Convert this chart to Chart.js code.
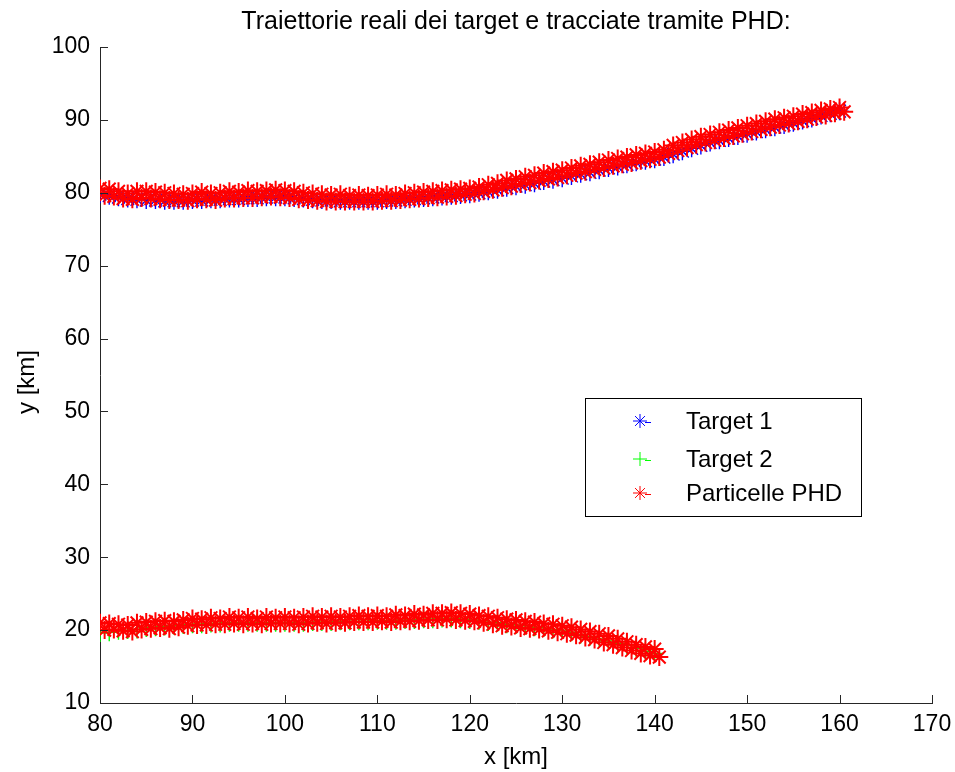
<!DOCTYPE html>
<html>
<head>
<meta charset="utf-8">
<script src="https://cdn.jsdelivr.net/npm/chart.js@4.4.0/dist/chart.umd.min.js"></script>
<style>
  html, body { margin: 0; padding: 0; background: #fff; }
  #wrap { width: 955px; height: 772px; }
</style>
</head>
<body>
<div id="wrap"><canvas id="traj" width="955" height="772"></canvas></div>
<script>
// x grid of the two tracks (km)
const topX = [80, 81, 82, 83, 84, 85, 86, 87, 88, 89, 90, 91, 92, 93, 94, 95, 96, 97, 98, 99,
  100, 101, 102, 103, 104, 105, 106, 107, 108, 109, 110, 111, 112, 113, 114, 115, 116, 117, 118, 119,
  120, 121, 122, 123, 124, 125, 126, 127, 128, 129, 130, 131, 132, 133, 134, 135, 136, 137, 138, 139,
  140, 141, 142, 143, 144, 145, 146, 147, 148, 149, 150, 151, 152, 153, 154, 155, 156, 157, 158, 159, 160];
const topXHalf = [80.5, 81.5, 82.5, 83.5, 84.5, 85.5, 86.5, 87.5, 88.5, 89.5, 90.5, 91.5, 92.5, 93.5, 94.5, 95.5, 96.5, 97.5, 98.5, 99.5,
  100.5, 101.5, 102.5, 103.5, 104.5, 105.5, 106.5, 107.5, 108.5, 109.5, 110.5, 111.5, 112.5, 113.5, 114.5, 115.5, 116.5, 117.5, 118.5, 119.5,
  120.5, 121.5, 122.5, 123.5, 124.5, 125.5, 126.5, 127.5, 128.5, 129.5, 130.5, 131.5, 132.5, 133.5, 134.5, 135.5, 136.5, 137.5, 138.5, 139.5,
  140.5, 141.5, 142.5, 143.5, 144.5, 145.5, 146.5, 147.5, 148.5, 149.5, 150.5, 151.5, 152.5, 153.5, 154.5, 155.5, 156.5, 157.5, 158.5, 159.5, 160.5];
const botX = [80, 81, 82, 83, 84, 85, 86, 87, 88, 89, 90, 91, 92, 93, 94, 95, 96, 97, 98, 99,
  100, 101, 102, 103, 104, 105, 106, 107, 108, 109, 110, 111, 112, 113, 114, 115, 116, 117, 118, 119,
  120, 121, 122, 123, 124, 125, 126, 127, 128, 129, 130, 131, 132, 133, 134, 135, 136, 137, 138, 139, 140];
const botXHalf = [80.5, 81.5, 82.5, 83.5, 84.5, 85.5, 86.5, 87.5, 88.5, 89.5, 90.5, 91.5, 92.5, 93.5, 94.5, 95.5, 96.5, 97.5, 98.5, 99.5,
  100.5, 101.5, 102.5, 103.5, 104.5, 105.5, 106.5, 107.5, 108.5, 109.5, 110.5, 111.5, 112.5, 113.5, 114.5, 115.5, 116.5, 117.5, 118.5, 119.5,
  120.5, 121.5, 122.5, 123.5, 124.5, 125.5, 126.5, 127.5, 128.5, 129.5, 130.5, 131.5, 132.5, 133.5, 134.5, 135.5, 136.5, 137.5, 138.5, 139.5, 140.5];

// true trajectories (km)
const target1Y = [79.8, 79.6, 79.4, 79.2, 79.1, 79.0, 79.0, 78.9, 78.9, 78.9, 79.0, 79.0, 79.1, 79.1, 79.2, 79.2, 79.3, 79.3, 79.4, 79.4,
  79.4, 79.3, 79.2, 79.1, 79.0, 79.0, 78.9, 78.9, 78.9, 78.9, 78.9, 79.0, 79.0, 79.1, 79.2, 79.3, 79.4, 79.5, 79.6, 79.7,
  79.8, 80.0, 80.2, 80.4, 80.7, 80.9, 81.1, 81.3, 81.6, 81.8, 82.0, 82.3, 82.6, 82.8, 83.1, 83.4, 83.6, 83.9, 84.2, 84.4,
  84.6, 84.9, 85.3, 85.7, 86.1, 86.5, 86.9, 87.2, 87.5, 87.8, 88.1, 88.4, 88.7, 89.0, 89.3, 89.6, 89.9, 90.2, 90.6, 90.9, 91.2];
const target2Y = [19.6, 19.7, 19.9, 20.0, 20.1, 20.3, 20.4, 20.5, 20.6, 20.7, 20.8, 20.8, 20.9, 20.9, 21.0, 21.0, 21.0, 21.0, 21.0, 21.0,
  21.0, 21.0, 21.0, 21.1, 21.1, 21.1, 21.2, 21.2, 21.2, 21.2, 21.3, 21.3, 21.3, 21.4, 21.4, 21.5, 21.5, 21.6, 21.6, 21.5,
  21.4, 21.3, 21.1, 21.0, 20.8, 20.7, 20.6, 20.4, 20.3, 20.1, 20.0, 19.7, 19.4, 19.1, 18.8, 18.5, 18.2, 17.9, 17.5, 17.1, 16.8];

// PHD particles (km)
const phdTopA = [80.6, 80.5, 80.2, 79.9, 80.2, 80.2, 80.1, 80.0, 79.9, 79.8, 79.9, 80.1, 79.9, 80.0, 80.2, 80.1, 80.3, 80.2, 80.3, 80.4,
  80.3, 80.2, 80.0, 79.9, 79.8, 79.7, 79.8, 79.6, 79.7, 79.6, 79.7, 79.8, 79.7, 79.9, 80.0, 80.1, 80.2, 80.3, 80.4, 80.5,
  80.6, 80.8, 81.1, 81.3, 81.7, 81.9, 82.2, 82.4, 82.7, 82.9, 83.1, 83.4, 83.7, 83.9, 84.2, 84.5, 84.7, 84.9, 85.2, 85.4,
  85.6, 85.9, 86.5, 86.9, 87.3, 87.7, 88.0, 88.3, 88.6, 88.9, 89.2, 89.5, 89.8, 90.1, 90.3, 90.5, 90.8, 91.0, 91.3, 91.5, 91.7];
const phdTopB = [79.6, 79.5, 79.2, 79.1, 79.3, 79.2, 79.1, 79.0, 79.0, 78.9, 79.1, 79.1, 79.0, 79.2, 79.2, 79.3, 79.3, 79.4, 79.5, 79.4,
  79.3, 79.1, 79.0, 78.9, 78.8, 78.8, 78.8, 78.8, 78.8, 78.8, 78.9, 78.9, 79.0, 79.1, 79.2, 79.3, 79.4, 79.5, 79.6, 79.8,
  79.9, 80.2, 80.4, 80.7, 80.9, 81.2, 81.4, 81.7, 81.9, 82.1, 82.4, 82.7, 82.9, 83.2, 83.4, 83.7, 83.9, 84.1, 84.4, 84.6,
  84.9, 85.4, 85.8, 86.2, 86.6, 86.9, 87.2, 87.5, 87.8, 88.1, 88.4, 88.7, 89.0, 89.3, 89.5, 89.8, 90.1, 90.4, 90.6, 90.9, 91.1];
const phdBotA = [21.0, 20.9, 20.8, 20.7, 21.0, 21.1, 21.2, 21.3, 21.2, 21.4, 21.6, 21.5, 21.7, 21.6, 21.8, 21.7, 21.8, 21.6, 21.8, 21.7,
  21.8, 21.7, 21.8, 21.9, 21.8, 21.9, 21.8, 21.9, 22.0, 21.9, 22.0, 21.9, 22.1, 22.0, 22.2, 22.1, 22.3, 22.3, 22.4, 22.3,
  22.2, 22.0, 21.9, 21.7, 21.5, 21.4, 21.2, 21.1, 20.9, 20.8, 20.6, 20.4, 20.1, 19.8, 19.5, 19.2, 18.8, 18.4, 18.0, 17.7, 17.4];
const phdBotB = [20.0, 20.1, 19.9, 19.8, 20.1, 20.2, 20.3, 20.2, 20.4, 20.6, 20.7, 20.7, 20.8, 20.8, 20.9, 20.8, 20.9, 20.8, 20.9, 20.9,
  20.9, 20.8, 20.9, 21.0, 20.9, 21.0, 21.0, 21.1, 21.1, 21.1, 21.2, 21.1, 21.2, 21.2, 21.3, 21.4, 21.4, 21.5, 21.4, 21.3,
  21.2, 21.0, 20.8, 20.6, 20.5, 20.3, 20.2, 20.1, 19.9, 19.7, 19.5, 19.3, 19.0, 18.7, 18.3, 18.0, 17.6, 17.2, 16.8, 16.5, 16.3];

const xTicks = [80, 90, 100, 110, 120, 130, 140, 150, 160, 170];
const yTicks = [10, 20, 30, 40, 50, 60, 70, 80, 90, 100];
const legendLabels = ['Target 1', 'Target 2', 'Particelle PHD'];
const titleText = 'Traiettorie reali dei target e tracciate tramite PHD:';
const xLabel = 'x [km]';
const yLabel = 'y [km]';

const FONT = '"Liberation Sans", Arial, sans-serif';
const BLUE = '#0000ff', GREEN = '#00ff00', RED = '#ff0000';

function zip(xs, ys) {
    return xs.map((x, i) => ({ x: x, y: ys[i] }));
}

// MATLAB style: inward ticks, title, axis labels, legend box
const matlabDecor = {
    id: 'matlabDecor',
    afterDraw(chart) {
        const ctx = chart.ctx;
        const xs = chart.scales.x, ys = chart.scales.y;
        const a = chart.chartArea;
        ctx.save();
        ctx.strokeStyle = '#262626';
        ctx.lineWidth = 1;
        ctx.beginPath();
        xTicks.forEach(v => {
            const px = Math.round(xs.getPixelForValue(v)) + 0.5;
            ctx.moveTo(px, a.bottom);
            ctx.lineTo(px, a.bottom - 8);
        });
        yTicks.forEach(v => {
            const py = Math.round(ys.getPixelForValue(v)) + 0.5;
            ctx.moveTo(a.left, py);
            ctx.lineTo(a.left + 8, py);
        });
        ctx.stroke();

        ctx.fillStyle = '#000';
        ctx.textAlign = 'center';
        ctx.textBaseline = 'middle';
        ctx.font = '25px ' + FONT;
        ctx.fillText(titleText, (a.left + a.right) / 2, 22);

        ctx.font = '24px ' + FONT;
        ctx.fillText(xLabel, (a.left + a.right) / 2, 757);
        ctx.save();
        ctx.translate(27, (a.top + a.bottom) / 2 + 7);
        ctx.rotate(-Math.PI / 2);
        ctx.fillText(yLabel, 0, 0);
        ctx.restore();

        // legend
        const bx = 585.5, by = 398.5, bw = 276, bh = 118;
        ctx.fillStyle = '#fff';
        ctx.fillRect(bx, by, bw, bh);
        ctx.strokeStyle = '#000';
        ctx.strokeRect(bx, by, bw, bh);
        const rows = [421, 459, 493];
        const styles = [['star', BLUE], ['cross', GREEN], ['star', RED]];
        ctx.font = '24px ' + FONT;
        ctx.textAlign = 'left';
        rows.forEach((ry, i) => {
            ctx.strokeStyle = styles[i][1];
            Chart.helpers.drawPoint(ctx, { pointStyle: styles[i][0], radius: 7, borderWidth: 1 }, 640, ry);
            ctx.beginPath();
            ctx.moveTo(645, ry + 1.5);
            ctx.lineTo(651, ry + 1.5);
            ctx.stroke();
            ctx.fillStyle = '#000';
            ctx.fillText(legendLabels[i], 686, ry + 1);
        });
        ctx.restore();
    }
};

new Chart(document.getElementById('traj'), {
    type: 'scatter',
    data: {
        datasets: [
            { label: 'Particelle PHD', data: zip(topX, phdTopA), pointStyle: 'star', radius: 9, borderColor: RED, borderWidth: 2, order: 0 },
            { label: 'Particelle PHD', data: zip(topXHalf, phdTopB), pointStyle: 'star', radius: 9, borderColor: RED, borderWidth: 2, order: 0 },
            { label: 'Particelle PHD', data: zip(botX, phdBotA), pointStyle: 'star', radius: 9, borderColor: RED, borderWidth: 2, order: 0 },
            { label: 'Particelle PHD', data: zip(botXHalf, phdBotB), pointStyle: 'star', radius: 9, borderColor: RED, borderWidth: 2, order: 0 },
            { label: 'Target 1', data: zip(topX, target1Y), pointStyle: 'star', radius: 9, borderColor: BLUE, borderWidth: 1.4, order: 1 },
            { label: 'Target 2', data: zip(botX, target2Y), pointStyle: 'cross', radius: 9, borderColor: GREEN, borderWidth: 1.4, order: 1 }
        ]
    },
    options: {
        responsive: false,
        animation: false,
        events: [],
        layout: { padding: { top: 47, right: 23, left: 0, bottom: 0 } },
        plugins: { legend: { display: false }, tooltip: { enabled: false } },
        scales: {
            x: {
                type: 'linear', min: 80, max: 170,
                afterBuildTicks: s => { s.ticks = xTicks.map(v => ({ value: v })); },
                afterFit: s => { s.height = 69; s.paddingLeft = 0; s.paddingRight = 0; },
                grid: { display: false, drawTicks: false },
                border: { display: true, color: '#262626', width: 1 },
                ticks: { color: '#000', font: { family: FONT, size: 23 }, padding: 8, maxRotation: 0 }
            },
            y: {
                type: 'linear', min: 10, max: 100,
                afterBuildTicks: s => { s.ticks = yTicks.map(v => ({ value: v })); },
                afterFit: s => { s.width = 100; s.paddingTop = 0; s.paddingBottom = 0; },
                grid: { display: false, drawTicks: false },
                border: { display: true, color: '#262626', width: 1 },
                ticks: { color: '#000', font: { family: FONT, size: 23 }, padding: 10 }
            }
        }
    },
    plugins: [matlabDecor]
});
</script>
</body>
</html>
